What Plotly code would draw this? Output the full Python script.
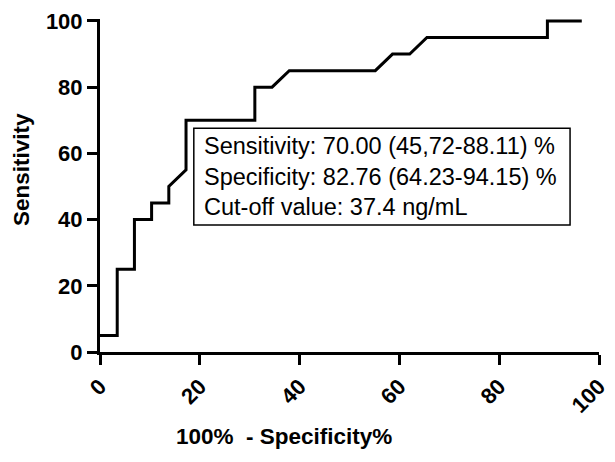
import plotly.graph_objects as go

# ROC curve points (100% - Specificity%, Sensitivity%)
fpr = [0, 3.45, 3.45, 6.90, 6.90, 10.34, 10.34, 13.79, 13.79, 17.24, 17.24,
       31.03, 31.03, 34.48, 37.93, 55.17, 58.62, 62.07, 65.52, 89.66, 89.66, 96.55]
sens = [5, 5, 25, 25, 40, 40, 45, 45, 50, 55, 70,
        70, 80, 80, 85, 85, 90, 90, 95, 95, 100, 100]

tick_vals = [0, 20, 40, 60, 80, 100]
tick_text = ["0", "20", "40", "60", "80", "100"]

box_lines = ["Sensitivity: 70.00 (45,72-88.11) %",
             "Specificity: 82.76 (64.23-94.15) %",
             "Cut-off value: 37.4 ng/mL"]

FONT = "Liberation Sans, Arial, sans-serif"

fig = go.Figure()
fig.add_trace(go.Scatter(x=fpr, y=sens, mode="lines",
                         line=dict(color="black", width=3),
                         showlegend=False, hoverinfo="skip"))

axis_common = dict(
    showgrid=False, zeroline=False, showline=True, linecolor="black", linewidth=3,
    ticks="outside", ticklen=10, tickwidth=3, tickcolor="black",
    tickvals=tick_vals, ticktext=tick_text, automargin=False,
    tickfont=dict(family=FONT, size=22, color="black", weight="bold"),
)

fig.update_layout(
    width=615, height=462,
    margin=dict(l=92, r=24, t=11, b=118),
    paper_bgcolor="white", plot_bgcolor="white",
    xaxis=dict(range=[0, 100], tickangle=-45, **axis_common),
    yaxis=dict(range=[0, 100.6], **axis_common),
)

# Info box
fig.add_shape(type="rect", xref="x", yref="y", x0=18.8, x1=94.2, y0=38.4, y1=67.6,
              line=dict(color="black", width=1.5), fillcolor="white", layer="above")
fig.add_annotation(xref="x", yref="y", x=20.4, y=53, xanchor="left", yanchor="middle",
                   align="left", showarrow=False, text="<br>".join(box_lines),
                   font=dict(family=FONT, size=23.5, color="black"))

# Axis titles
fig.add_annotation(xref="paper", yref="paper", x=0.368, y=-0.255,
                   xanchor="center", yanchor="middle", showarrow=False,
                   text="100%\u00a0\u00a0- Specificity%",
                   font=dict(family=FONT, size=22.5, color="black", weight="bold"))
fig.add_annotation(xref="paper", yref="paper", x=-0.156, y=0.547,
                   xanchor="center", yanchor="middle", showarrow=False, textangle=-90,
                   text="Sensitivity",
                   font=dict(family=FONT, size=22.5, color="black", weight="bold"))

fig.write_html("out.html")
